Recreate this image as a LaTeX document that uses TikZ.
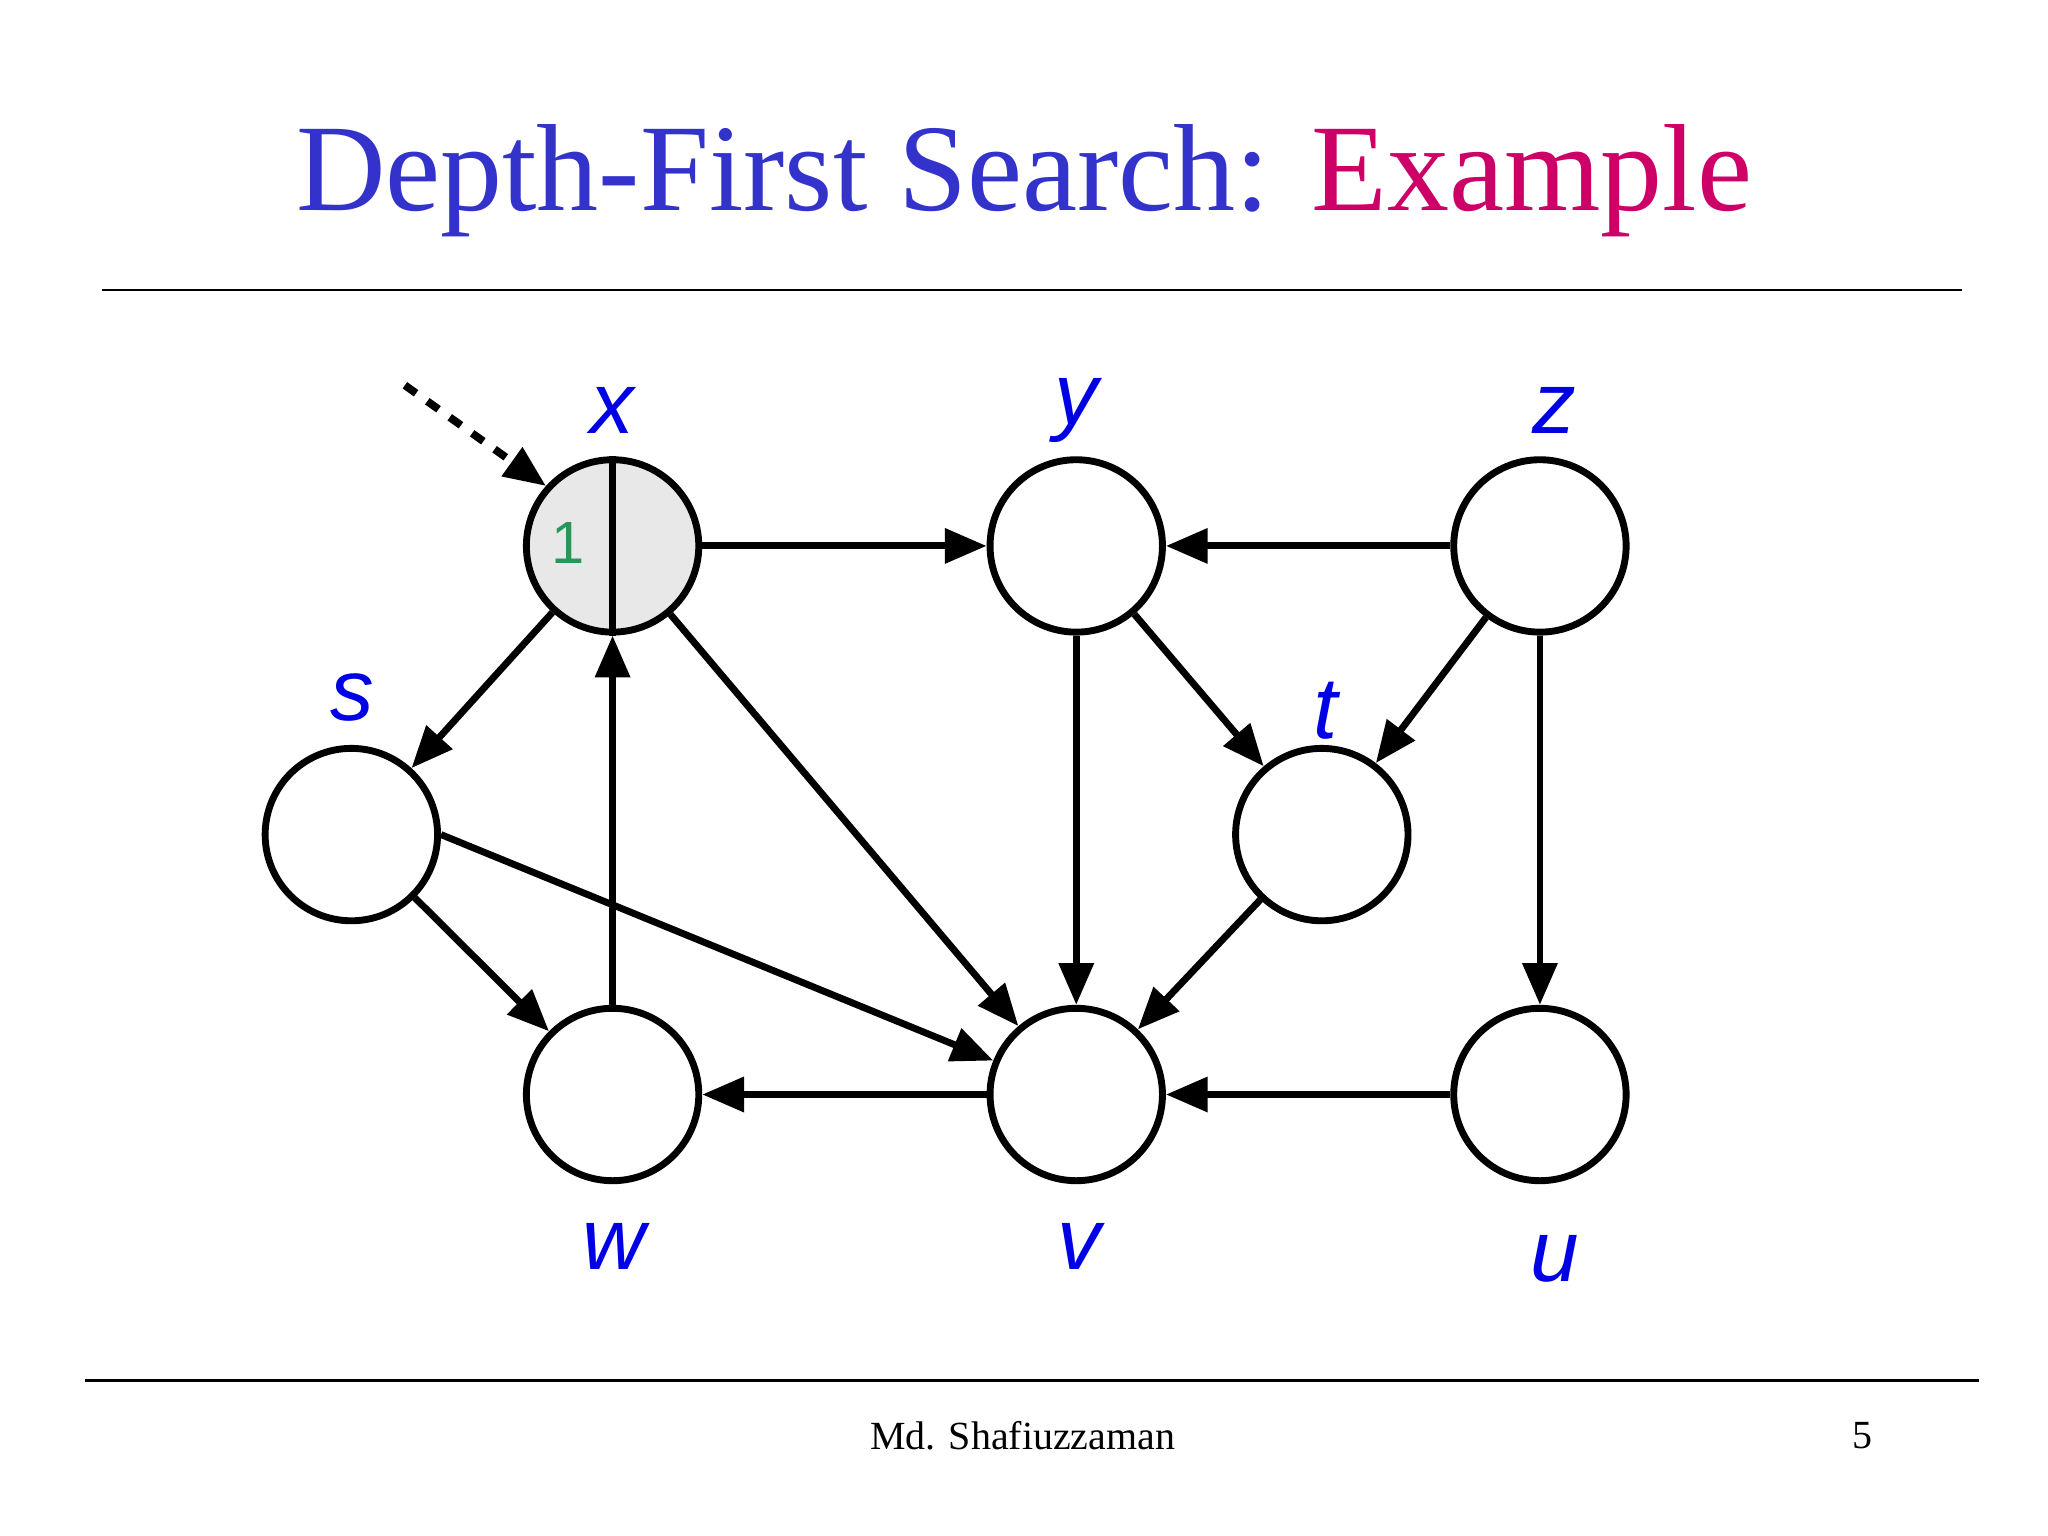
\documentclass[tikz,border=0pt]{standalone}
\usepackage{fontspec}
\setmainfont{Liberation Serif}
\newfontfamily\lsans{Liberation Sans}
\usetikzlibrary{arrows.meta}
\definecolor{titleblue}{RGB}{51,51,204}
\definecolor{titlered}{RGB}{204,0,102}
\definecolor{labblue}{RGB}{0,0,230}
\definecolor{numgreen}{RGB}{40,150,90}
\begin{document}
\begin{tikzpicture}[x=1cm,y=1cm,
  vert/.style={circle,draw,line width=1.5pt,minimum size=1.32cm,inner sep=0pt,fill=white},
  lab/.style={text=labblue,font=\lsans\itshape\fontsize{19}{22}\selectfont},
  edge/.style={line width=1.5pt,-{Triangle[length=0.32cm,width=0.26cm]}},
  rule/.style={line width=0.6pt}]
\useasboundingbox (0,0) rectangle (15.68,11.76);
\fill[white] (0,0) rectangle (15.68,11.76);
\node (title) at (7.84,10.38) {\fontsize{27}{32}\selectfont\textcolor{titleblue}{Depth-First Search:} \textcolor{titlered}{Example}};
\coordinate (t1) at (0.78,9.54); \coordinate (t2) at (15.02,9.54);
\draw[rule] (t1) -- (t2);
\coordinate (b1) at (0.65,1.19); \coordinate (b2) at (15.15,1.19);
\draw[rule] (b1) -- (b2);
\node (foot) at (7.83,0.77) {\fontsize{8.7}{10}\selectfont Md. Shafiuzzaman};
\node (page) at (14.26,0.77) {\fontsize{8.7}{10}\selectfont 5};

\node[vert,fill=gray!18] (x) at (4.69,7.58) {};
\node[vert] (y) at (8.24,7.58) {};
\node[vert] (z) at (11.79,7.58) {};
\node[vert] (s) at (2.69,5.37) {};
\node[vert] (t) at (10.12,5.37) {};
\node[vert] (w) at (4.69,3.38) {};
\node[vert] (v) at (8.24,3.38) {};
\node[vert] (u) at (11.79,3.38) {};
\draw[line width=1.5pt] (x.north) -- (x.south);
\node[text=numgreen,font=\lsans\fontsize{13}{15}\selectfont] (one) at (4.35,7.6) {1};

\node[lab] (lx) at (4.69,8.62) {x};
\node[lab] (ly) at (8.24,8.62) {y};
\node[lab] (lz) at (11.9,8.62) {z};
\node[lab] (ls) at (2.70,6.42) {s};
\node[lab] (lt) at (10.15,6.32) {t};
\node[lab] (lw) at (4.70,2.22) {w};
\node[lab] (lv) at (8.26,2.22) {v};
\node[lab] (lu) at (11.90,2.12) {u};

\coordinate (st) at (3.10,8.81);
\draw[line width=1.7pt,dash pattern=on 3pt off 3pt,-{Triangle[length=0.32cm,width=0.26cm]}] (st) -- (x.138);

\draw[edge] (x) -- (y);
\draw[edge] (z) -- (y);
\draw[edge] (x) -- (s);
\draw[edge] (x) -- (v);
\draw[edge] (y) -- (v);
\draw[edge] (y) -- (t);
\draw[edge] (z) -- (t);
\draw[edge] (z) -- (u);
\draw[edge] (s) -- (w);
\draw[edge] (s.east) -- (v);
\draw[edge] (w) -- (x);
\draw[edge] (t) -- (v);
\draw[edge] (v) -- (w);
\draw[edge] (u) -- (v);
\end{tikzpicture}
\end{document}
